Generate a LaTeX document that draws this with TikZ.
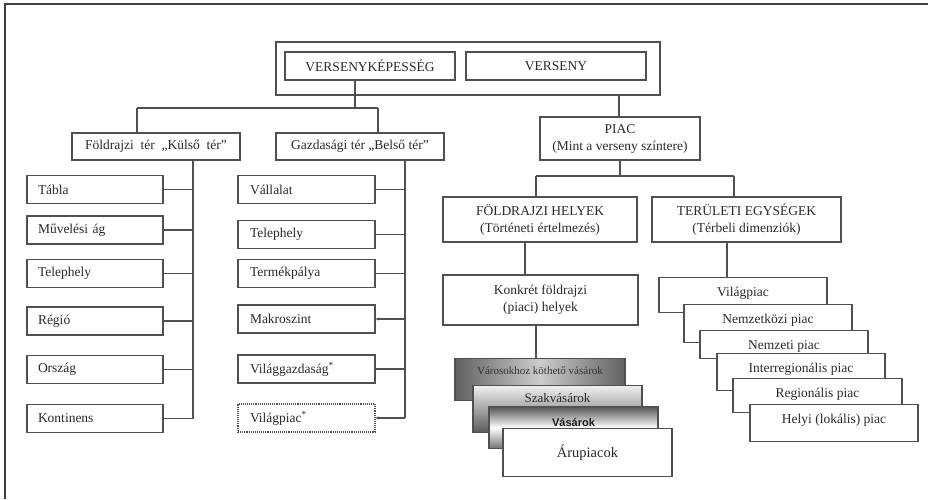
\documentclass[tikz,border=0pt]{standalone}
\usepackage{fontspec}
\setmainfont{Liberation Serif}
\newfontfamily\sansb{Liberation Sans}
\usetikzlibrary{arrows.meta}
\definecolor{ln}{HTML}{505050}
\definecolor{txt}{HTML}{2A2A2A}
\begin{document}
\begin{tikzpicture}[x=1pt,y=-1pt,
  every node/.style={font=\fontsize{13.5}{17}\selectfont, text=txt},
  box/.style={draw=ln, line width=1.1pt, fill=white, inner sep=0pt},
  cbox/.style={box, align=center},
  lboxa/.style={box, minimum height=28pt, text width=114pt, align=left, inner xsep=11pt},
  lboxb/.style={box, minimum height=28pt, text width=113pt, align=left, inner xsep=12pt},
  rbox/.style={box, inner ysep=0pt, text height=19pt, align=center},
  sbox/.style={box, inner ysep=0pt, align=center},
  conn/.style={draw=ln, line width=1.1pt},
  frame/.style={draw=black!75, line width=1.6pt}]
\useasboundingbox (0,0) rectangle (928,499);
\draw[frame] (5,499) -- (5,4) -- (928,4);

% top group
\node[box, minimum width=384pt, minimum height=53pt] (outer) at (468,68.5) {};
\node[cbox, minimum width=170pt, minimum height=28pt] (vk) at (370,66) {VERSENYKÉPESSÉG};
\node[cbox, minimum width=180pt, minimum height=28pt] (vs) at (556,66) {VERSENY};

% second row
\node[cbox, minimum width=168pt, minimum height=27pt] (ft) at (156,146.5) {Földrajzi\ \ tér\ \ „Külső\ \ tér”};
\node[cbox, minimum width=168pt, minimum height=27pt] (gt) at (360,146.5) {Gazdasági tér „Belső tér”};

% left column
\node[lboxa] (tabla) at (95,189.5) {Tábla};
\node[lboxa] (muv) at (95,230) {Művelési ág};
\node[lboxa] (tel1) at (95,273.5) {Telephely};
\node[lboxa] (regio) at (95,321) {Régió};
\node[lboxa] (orszag) at (95,369.5) {Ország};
\node[lboxa] (kont) at (95,418.5) {Kontinens};

% middle column
\node[lboxb] (vall) at (306.5,189.5) {Vállalat};
\node[lboxb] (tel2) at (306.5,234.5) {Telephely};
\node[lboxb] (term) at (306.5,273.5) {Termékpálya};
\node[lboxb] (makro) at (306.5,319) {Makroszint};
\node[lboxb] (vgazd) at (306.5,369) {Világgazdaság\textsuperscript{*}};
\node[lboxb, densely dotted] (vpiac) at (306.5,418) {Világpiac\textsuperscript{*}};

% connectors left part
\coordinate (j1) at (355,108);
\coordinate (xa) at (137,108);
\coordinate (xb) at (378,108);
\draw[conn] (vk.south -| j1) -- (j1);
\draw[conn] (xa) -- (xb);
\draw[conn] (xa) -- (xa |- ft.north);
\draw[conn] (xb) -- (xb |- gt.north);
\coordinate (s1) at (193,0);
\coordinate (s2) at (405,0);
\draw[conn] (s1 |- ft.south) -- (s1 |- kont.east);
\foreach \b in {tabla,muv,tel1,regio,orszag,kont}
  \draw[conn] (\b.east) -- (\b.east -| s1);
\draw[conn] (s2 |- gt.south) -- (s2 |- vpiac.east);
\foreach \b in {vall,tel2,term,vgazd}
  \draw[conn] (\b.east) -- (\b.east -| s2);
\draw[conn, -{Stealth[length=3.5pt,width=3pt]}] (makro.east -| s2) -- (makro.east);
\draw[conn, -{Stealth[length=3.5pt,width=3pt]}] (vpiac.east -| s2) -- (vpiac.east);

% right part
\node[cbox, minimum width=160pt, minimum height=43pt] (piac) at (620,138.5) {PIAC\\(Mint a verseny színtere)};
\node[cbox, minimum width=194pt, minimum height=45pt] (fh) at (540,219.5) {FÖLDRAJZI HELYEK\\(Történeti értelmezés)};
\node[cbox, minimum width=189pt, minimum height=45pt] (te) at (746.5,219.5) {TERÜLETI EGYSÉGEK\\(Térbeli dimenziók)};
\node[cbox, minimum width=195pt, minimum height=50pt] (kk) at (540.5,300) {Konkrét földrajzi\\(piaci) helyek};

\coordinate (v1) at (619,0);
\draw[conn] (v1 |- outer.south) -- (v1 |- piac.north);
\coordinate (p1) at (620,176);
\coordinate (fa) at (536,176);
\coordinate (ta) at (734,176);
\draw[conn] (piac.south) -- (p1);
\draw[conn] (fa) -- (ta);
\draw[conn] (fa) -- (fa |- fh.north);
\draw[conn] (ta) -- (ta |- te.north);

% shaded stack
\node[sbox, anchor=north, minimum width=170pt, text height=15.5pt, text depth=26.5pt,
  left color=black!62, right color=black!62, middle color=black!20, text=black!80,
  font=\fontsize{11}{13}\selectfont] (vv) at (540,358) {Városokhoz köthető vásárok};
\node[sbox, anchor=north, minimum width=169pt, text height=17pt, text depth=30pt,
  top color=black!6, bottom color=black!65, font=\fontsize{13}{15}\selectfont] (szak) at (557.5,385) {Szakvásárok};
\node[sbox, anchor=north, minimum width=169pt, text height=20pt, text depth=22pt,
  top color=black!68, bottom color=black!55, middle color=white, text=black!90,
  font=\sansb\bfseries\fontsize{11}{13}\selectfont] (vasar) at (573.5,406) {Vásárok};
\node[sbox, anchor=north, minimum width=169pt, text height=29pt, text depth=19pt,
  font=\fontsize{14.5}{17}\selectfont] (aru) at (587.5,428) {Árupiacok};

\coordinate (k1) at (525,0);
\coordinate (k2) at (536,0);
\draw[conn] (k1 |- fh.south) -- (k1 |- kk.north);
\draw[conn] (k2 |- kk.south) -- (k2 |- vv.north);

% right stack
\node[rbox, anchor=north, minimum width=168pt, text depth=16pt] (vp) at (743,277) {Világpiac};
\node[rbox, anchor=north, minimum width=168pt, text depth=19pt] (nk) at (768,304) {Nemzetközi piac};
\node[rbox, anchor=north, minimum width=168pt, text depth=9pt] (nz) at (784,330) {Nemzeti piac};
\node[rbox, anchor=north, minimum width=168pt, text depth=18pt] (ir) at (801,353) {Interregionális piac};
\node[rbox, anchor=north, minimum width=169pt, text depth=15pt] (rg) at (817.5,378) {Regionális piac};
\node[rbox, anchor=north, minimum width=168pt, text depth=18pt] (hl) at (834,404) {Helyi (lokális) piac};

\coordinate (t2) at (727,0);
\draw[conn] (t2 |- te.south) -- (t2 |- vp.north);
\end{tikzpicture}
\end{document}
